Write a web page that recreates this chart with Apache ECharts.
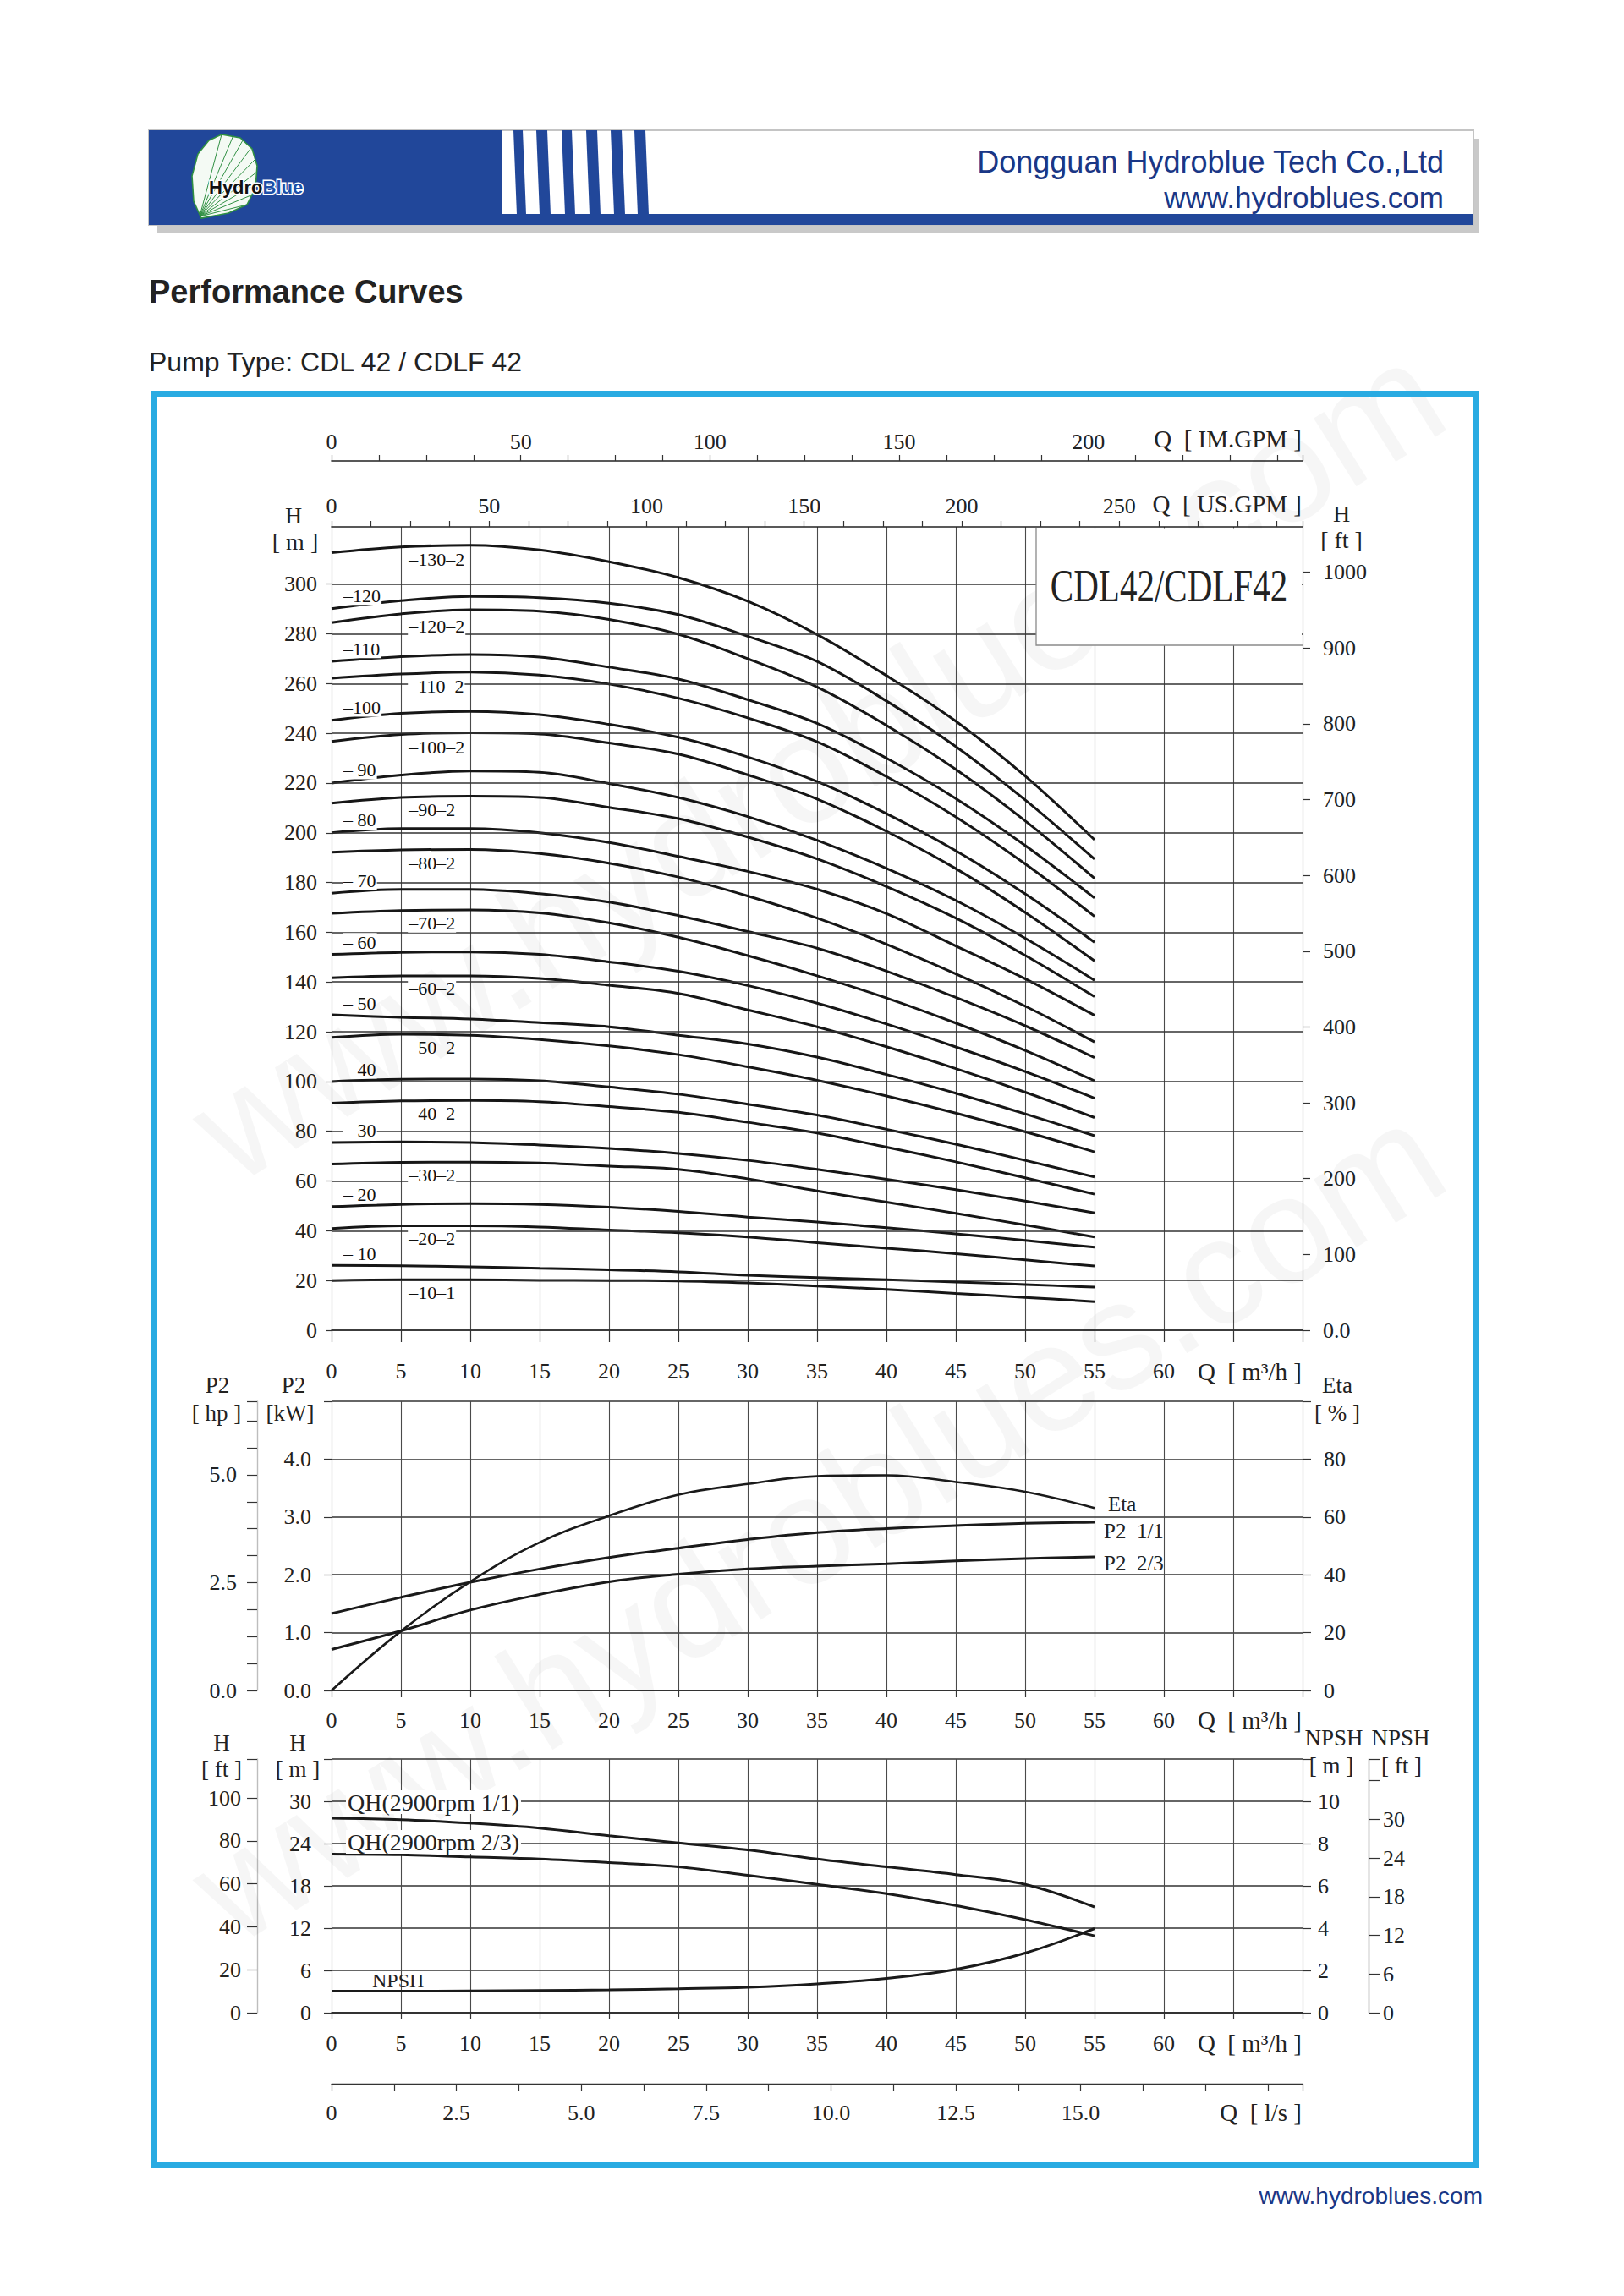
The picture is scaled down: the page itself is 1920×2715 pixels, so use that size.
<!DOCTYPE html>
<html><head><meta charset="utf-8">
<script src="https://cdn.jsdelivr.net/npm/echarts@6/dist/echarts.min.js"></script>
<style>html,body{margin:0;padding:0;background:#fff}#c{width:1920px;height:2715px}</style>
</head><body><div id="c"></div>
<script>
// ---------------- data ----------------
const Q = [0, 5, 10, 15, 20, 25, 30, 35, 40, 45, 50, 55];           // m3/h
// H [m] of each pump version
const h130_2 = [312.6, 314.9, 315.6, 313.7, 309.0, 302.6, 293.1, 279.7, 263.2, 244.9, 222.8, 197.2];
const h120   = [290.1, 293.3, 295.0, 294.5, 292.3, 287.7, 279.0, 268.9, 253.0, 234.7, 213.2, 189.4];
const h120_2 = [284.5, 288.0, 289.7, 289.1, 285.8, 279.8, 270.0, 258.6, 243.2, 225.5, 204.8, 181.7];
const h110   = [268.9, 270.8, 271.7, 270.6, 266.6, 261.8, 253.5, 244.0, 230.0, 213.8, 194.9, 173.8];
const h110_2 = [262.1, 263.8, 264.6, 263.4, 259.8, 254.1, 246.2, 236.6, 222.6, 206.4, 187.5, 166.4];
const h100   = [245.2, 248.0, 248.8, 247.5, 243.6, 238.4, 230.5, 220.6, 207.7, 192.8, 175.4, 156.0];
const h100_2 = [236.7, 239.5, 240.2, 239.7, 236.1, 231.6, 223.3, 213.6, 200.6, 185.6, 168.0, 148.5];
const h90    = [220.0, 223.2, 224.8, 224.3, 219.8, 214.2, 206.5, 197.0, 185.7, 172.8, 157.6, 140.7];
const h90_2  = [211.9, 214.2, 214.7, 214.2, 210.2, 205.7, 198.3, 189.5, 178.4, 165.7, 150.7, 134.1];
const h80    = [200.0, 201.7, 201.7, 200.0, 196.1, 190.5, 184.5, 177.3, 167.5, 154.5, 141.3, 126.6];
const h80_2  = [192.2, 193.1, 193.3, 191.7, 187.8, 182.2, 174.6, 165.7, 155.2, 143.3, 130.3, 115.9];
const h70    = [175.7, 177.2, 177.2, 175.5, 172.1, 166.7, 160.3, 153.6, 144.4, 133.8, 122.4, 109.6];
const h70_2  = [167.6, 168.7, 169.0, 167.8, 163.8, 158.0, 150.6, 142.5, 133.6, 123.5, 112.5, 100.3];
const h60    = [151.1, 151.9, 152.1, 151.1, 148.1, 144.3, 138.6, 131.5, 123.1, 113.9, 104.0, 93.3];
const h60_2  = [141.7, 142.5, 142.5, 141.4, 138.7, 135.4, 128.8, 122.0, 114.0, 105.2, 95.7, 85.5];
const h50    = [126.8, 125.8, 125.1, 123.7, 122.0, 118.6, 115.1, 109.8, 102.8, 95.3, 87.0, 78.2];
const h50_2  = [117.7, 119.0, 118.6, 116.9, 114.3, 110.8, 105.9, 100.5, 94.2, 87.3, 79.8, 71.7];
const h40    = [100.0, 100.9, 101.0, 100.3, 97.8, 94.9, 90.9, 86.5, 80.8, 74.8, 68.3, 61.6];
const h40_2  = [91.3, 92.2, 92.4, 91.9, 89.9, 87.6, 83.6, 79.3, 73.6, 67.7, 61.3, 54.7];
const h30    = [75.5, 75.7, 75.5, 74.5, 73.1, 71.1, 68.3, 64.7, 60.7, 56.5, 51.9, 47.2];
const h30_2  = [66.8, 67.5, 67.6, 67.2, 66.0, 64.7, 60.9, 56.0, 51.5, 47.0, 42.3, 37.5];
const h20    = [49.7, 50.6, 50.9, 50.6, 49.5, 47.8, 45.5, 43.5, 41.2, 38.8, 36.1, 33.4];
const h20_2  = [40.9, 42.0, 42.0, 41.5, 40.3, 39.2, 37.5, 35.2, 33.0, 30.8, 28.3, 25.8];
const h10    = [26.1, 25.9, 25.5, 24.9, 24.3, 23.5, 22.1, 21.2, 20.3, 19.4, 18.4, 17.3];
const h10_1  = [20.0, 20.3, 20.3, 20.1, 20.0, 19.8, 19.0, 17.8, 16.4, 14.8, 13.2, 11.5];

const curveNames = ['–130–2','–120','–120–2','–110','–110–2','–100','–100–2','– 90','–90–2','– 80','–80–2',
  '– 70','–70–2','– 60','–60–2','– 50','–50–2','– 40','–40–2','– 30','–30–2','– 20','–20–2','– 10','–10–1'];
const curveValues = [h130_2,h120,h120_2,h110,h110_2,h100,h100_2,h90,h90_2,h80,h80_2,
  h70,h70_2,h60,h60_2,h50,h50_2,h40,h40_2,h30,h30_2,h20,h20_2,h10,h10_1];

// P2 / efficiency chart
const etaPct     = [0, 20.5, 37.6, 51.2, 60.4, 67.7, 71.4, 74.1, 74.4, 72.1, 68.7, 63.1];
const p2Full     = [1.33, 1.61, 1.87, 2.10, 2.30, 2.46, 2.61, 2.73, 2.80, 2.85, 2.89, 2.91];
const p2TwoThird = [0.71, 1.03, 1.39, 1.66, 1.88, 2.01, 2.10, 2.15, 2.19, 2.24, 2.28, 2.31];

// single stage QH and NPSH chart
const qhFull     = [27.6, 27.4, 26.9, 26.2, 25.1, 24.1, 23.1, 21.8, 20.7, 19.6, 18.2, 15.0];
const qhTwoThird = [22.5, 22.4, 22.1, 21.8, 21.3, 20.7, 19.5, 18.2, 16.9, 15.2, 13.2, 10.9];
const npshM      = [1.02, 1.02, 1.03, 1.05, 1.08, 1.13, 1.20, 1.36, 1.62, 2.05, 2.82, 3.98];

// tick labels
const qLabels      = [0,5,10,15,20,25,30,35,40,45,50,55,60];
const hLabelsM     = [0,20,40,60,80,100,120,140,160,180,200,220,240,260,280,300];
const hLabelsFt    = [0,100,200,300,400,500,600,700,800,900,1000];
const usGpmLabels  = [0,50,100,150,200,250];
const imGpmLabels  = [0,50,100,150,200];
const kwLabels     = [0,1,2,3,4];
const hpLabels     = [0,2.5,5];
const etaLabels    = [0,20,40,60,80];
const h1Labels     = [0,6,12,18,24,30];
const h1FtLabels   = [0,20,40,60,80,100];
const npshLabels   = [0,2,4,6,8,10];
const npshFtLabels = [0,6,12,18,24,30];
const lsLabels     = [0,2.5,5,7.5,10,12.5,15];

// unit conversions
const US_GPM = 4.402868, IM_GPM = 3.666154, FT = 3.28084, HP = 1/0.7457, LS = 1/3.6;
const Q_MAX = 70, H_MAX = 323, H1_MAX = 36, KW_MAX = 5, NPSH_MAX = 12;

// ---------------- layout / style ----------------
const SERIF = "'Liberation Serif','Times New Roman',serif";
const SANS  = "'Liberation Sans',Arial,sans-serif";
const BLUE  = '#21479a';
const GL = 392, GW = 1148;

function pick(list, fmt) {
  return v => {
    const hit = list.find(t => Math.abs(t - v) < 1e-6);
    return hit === undefined ? '' : (fmt ? fmt(hit) : String(hit));
  };
}
function interp(arr, q) {
  let i = Math.min(Math.floor(q / 5), Q.length - 2);
  const t = (q - Q[i]) / (Q[i + 1] - Q[i]);
  return arr[i] + (arr[i + 1] - arr[i]) * t;
}
const lab = (o) => Object.assign({color:'#222', fontSize:26, fontFamily:SERIF}, o);
const tick = (len, o) => Object.assign({show:true, length:len, lineStyle:{color:'#333', width:1.2}}, o || {});
const line = (show, color, width) => ({show, onZero:false, lineStyle:{color, width}});
const vSplit = {show:true, lineStyle:{color:'#4a4a4a', width:1.1}};
const hSplit = {show:true, lineStyle:{color:'#333', width:1.5}};

const xAxis = [
  // 0 main Q
  {type:'value', gridIndex:0, position:'bottom', min:0, max:Q_MAX, interval:5,
   axisLine:line(true,'#222',1.6), axisTick:tick(14),
   axisLabel:lab({margin:35, formatter:pick(qLabels)}), splitLine:vSplit},
  // 1 US.GPM
  {type:'value', gridIndex:0, position:'top', min:0, max:Q_MAX*US_GPM, interval:12.5,
   axisLine:line(true,'#222',1.6), axisTick:tick(7),
   axisLabel:lab({margin:12, formatter:pick(usGpmLabels)}), splitLine:{show:false}},
  // 2 IM.GPM
  {type:'value', gridIndex:0, position:'top', offset:78, min:0, max:Q_MAX*IM_GPM, interval:12.5,
   axisLine:line(true,'#222',1.6), axisTick:tick(7),
   axisLabel:lab({margin:10, formatter:pick(imGpmLabels)}), splitLine:{show:false}},
  // 3 P2 chart Q
  {type:'value', gridIndex:1, position:'bottom', min:0, max:Q_MAX, interval:5,
   axisLine:line(true,'#222',1.6), axisTick:tick(8),
   axisLabel:lab({margin:22, formatter:pick(qLabels)}), splitLine:vSplit},
  // 4 NPSH chart Q
  {type:'value', gridIndex:2, position:'bottom', min:0, max:Q_MAX, interval:5,
   axisLine:line(true,'#222',1.6), axisTick:tick(8),
   axisLabel:lab({margin:23, formatter:pick(qLabels)}), splitLine:vSplit},
  // 5 l/s
  {type:'value', gridIndex:2, position:'bottom', offset:84, min:0, max:Q_MAX*LS, interval:1.25,
   axisLine:line(true,'#333',1.4), axisTick:tick(9),
   axisLabel:lab({margin:21, formatter:pick(lsLabels, v => v === 0 ? '0' : v.toFixed(1))}), splitLine:{show:false}}
];

const yAxis = [
  // 0 main H m
  {type:'value', gridIndex:0, position:'left', min:0, max:H_MAX, interval:20,
   axisLine:line(false,'#333',1), axisTick:tick(7, {customValues:hLabelsM}),
   axisLabel:lab({margin:17, formatter:pick(hLabelsM)}), splitLine:{show:false}},
  // 1 main H ft
  {type:'value', gridIndex:0, position:'right', min:0, max:H_MAX*FT, interval:100,
   axisLine:line(false,'#333',1), axisTick:tick(9, {customValues:hLabelsFt}),
   axisLabel:lab({margin:24, formatter:pick(hLabelsFt, v => v === 0 ? '0.0' : String(v))}), splitLine:{show:false}},
  // 2 P2 kW
  {type:'value', gridIndex:1, position:'left', min:0, max:KW_MAX, interval:1,
   axisLine:line(false,'#333',1), axisTick:tick(9),
   axisLabel:lab({margin:24, formatter:pick(kwLabels, v => v.toFixed(1))}), splitLine:hSplit},
  // 3 P2 hp
  {type:'value', gridIndex:1, position:'left', offset:88, min:0, max:KW_MAX*HP, interval:0.625,
   axisLine:line(true,'#bdbdbd',1.4), axisTick:tick(12),
   axisLabel:lab({margin:24, formatter:pick(hpLabels, v => v.toFixed(1))}), splitLine:{show:false}},
  // 4 Eta %
  {type:'value', gridIndex:1, position:'right', min:0, max:100, interval:20,
   axisLine:line(false,'#333',1), axisTick:tick(10),
   axisLabel:lab({margin:25, formatter:pick(etaLabels)}), splitLine:{show:false}},
  // 5 single stage H m
  {type:'value', gridIndex:2, position:'left', min:0, max:H1_MAX, interval:6,
   axisLine:line(false,'#333',1), axisTick:tick(9),
   axisLabel:lab({margin:24, formatter:pick(h1Labels)}), splitLine:hSplit},
  // 6 single stage H ft
  {type:'value', gridIndex:2, position:'left', offset:88, min:0, max:H1_MAX*FT, interval:20,
   axisLine:line(true,'#bdbdbd',1.4), axisTick:tick(12),
   axisLabel:lab({margin:19, formatter:pick(h1FtLabels)}), splitLine:{show:false}},
  // 7 NPSH m
  {type:'value', gridIndex:2, position:'right', min:0, max:NPSH_MAX, interval:2,
   axisLine:line(false,'#333',1), axisTick:tick(10),
   axisLabel:lab({margin:18, formatter:pick(npshLabels)}), splitLine:{show:false}},
  // 8 NPSH ft
  {type:'value', gridIndex:2, position:'right', offset:78, min:0, max:NPSH_MAX*FT, interval:6,
   axisLine:line(true,'#555',1.3), axisTick:tick(13),
   axisLabel:lab({margin:17, formatter:pick(npshFtLabels)}), splitLine:{show:false}}
];

const series = [];
// horizontal grid of the main chart
series.push({type:'line', xAxisIndex:0, yAxisIndex:0, data:[[0,0]], symbol:'none', silent:true,
  lineStyle:{width:0}, z:1,
  markLine:{silent:true, symbol:['none','none'], label:{show:false}, animation:false,
    lineStyle:{color:'#333', width:1.5, type:'solid'}, data:hLabelsM.map(v => ({yAxis:v}))}});

curveNames.forEach((name, k) => {
  const arr = curveValues[k];
  const inner = (name.match(/–/g) || []).length > 1;
  const lq = inner ? 5.5 : 0.8;
  series.push({
    name, type:'line', xAxisIndex:0, yAxisIndex:0, z:3,
    data:Q.map((q, i) => [q, arr[i]]), smooth:0.35, symbol:'none', silent:true,
    lineStyle:{color:'#161616', width:3},
    markPoint:{symbol:'circle', symbolSize:0, silent:true, itemStyle:{color:'transparent'},
      data:[{coord:[lq, interp(arr, lq)]}],
      label:{show:true, position:'right', distance:0, offset:[0, inner ? 15 : -14],
        formatter:name, color:'#111', fontSize:22, fontFamily:SERIF,
        backgroundColor:'#fff', padding:[0,1]}}
  });
});

const endLab = (text, off) => ({show:true, formatter:text, offset:off, color:'#222', fontSize:25, fontFamily:SERIF});
series.push({type:'line', name:'Eta', xAxisIndex:3, yAxisIndex:4, data:Q.map((q,i)=>[q, etaPct[i]]),
  smooth:0.4, symbol:'none', silent:true, lineStyle:{color:'#1a1a1a', width:2.6}, endLabel:endLab('Eta', [8,-5])});
series.push({type:'line', name:'P2 1/1', xAxisIndex:3, yAxisIndex:2, data:Q.map((q,i)=>[q, p2Full[i]]),
  smooth:0.4, symbol:'none', silent:true, lineStyle:{color:'#1a1a1a', width:3}, endLabel:endLab('P2  1/1', [3,11])});
series.push({type:'line', name:'P2 2/3', xAxisIndex:3, yAxisIndex:2, data:Q.map((q,i)=>[q, p2TwoThird[i]]),
  smooth:0.4, symbol:'none', silent:true, lineStyle:{color:'#1a1a1a', width:3}, endLabel:endLab('P2  2/3', [3,8])});

series.push({type:'line', name:'QH 1/1', xAxisIndex:4, yAxisIndex:5, data:Q.map((q,i)=>[q, qhFull[i]]),
  smooth:0.35, symbol:'none', silent:true, lineStyle:{color:'#1a1a1a', width:3}});
series.push({type:'line', name:'QH 2/3', xAxisIndex:4, yAxisIndex:5, data:Q.map((q,i)=>[q, qhTwoThird[i]]),
  smooth:0.35, symbol:'none', silent:true, lineStyle:{color:'#1a1a1a', width:3}});
series.push({type:'line', name:'NPSH', xAxisIndex:4, yAxisIndex:7, data:Q.map((q,i)=>[q, npshM[i]]),
  smooth:0.4, symbol:'none', silent:true, lineStyle:{color:'#1a1a1a', width:3}});

// ---------------- page graphics ----------------
const T = (text, x, y, o) => ({type:'text', x, y, z:(o && o.z) || 50, rotation:(o && o.rot) || 0,
  scaleX:(o && o.sx) || 1,
  style:Object.assign({text, fill:'#222', font:`27px ${SERIF}`, textAlign:'center', textVerticalAlign:'middle',
    align:'center', verticalAlign:'middle'}, (o && o.style) || {})});
const leftT = (style) => Object.assign({textAlign:'left', align:'left'}, style);
const rightT = (style) => Object.assign({textAlign:'right', align:'right'}, style);
const unitFont = `29px ${SERIF}`;

const g = [];
// watermark
g.push(T('www.hydroblues.com', 966, 900, {z:0, rot:32*Math.PI/180, style:{font:`180px ${SANS}`, fill:'rgba(0,0,0,0.035)'}}));
g.push(T('www.hydroblues.com', 966, 1800, {z:0, rot:32*Math.PI/180, style:{font:`180px ${SANS}`, fill:'rgba(0,0,0,0.035)'}}));

// header banner
g.push({type:'rect', z:1, shape:{x:186, y:164, width:1562, height:112}, style:{fill:'#c9c9c9'}});
g.push({type:'rect', z:2, shape:{x:176, y:154, width:1566, height:112}, style:{fill:'#fff', stroke:'#c4c4c4', lineWidth:2}});
g.push({type:'rect', z:3, shape:{x:176, y:154, width:418, height:112}, style:{fill:BLUE}});
g.push({type:'rect', z:3, shape:{x:176, y:253, width:1566, height:13}, style:{fill:BLUE}});
[[611,622],[638,651],[668,680],[697,710],[726,739],[754,767]].forEach(([a,b]) => {
  g.push({type:'polygon', z:3, shape:{points:[[a-4,154],[b-4,154],[b,254],[a,254]]}, style:{fill:BLUE}});
});
// logo
g.push({type:'polygon', z:4, shape:{points:[[262,159],[284,163],[298,176],[304,196],[302,222],[292,242],[270,252],[238,258],[229,238],[227,208],[234,182],[247,166]]},
  style:{fill:'#f4faf4', stroke:'#2f8f42', lineWidth:1.6}});
[[262,159],[276,160],[287,166],[296,176],[301,189],[304,203],[303,217],[299,230],[292,242]].forEach(p => {
  g.push({type:'line', z:4, shape:{x1:236, y1:256, x2:p[0], y2:p[1]}, style:{stroke:'#2f8f42', lineWidth:1}});
});
g.push({type:'text', z:5, x:247, y:221, style:{text:'{a|Hydro}{b|Blue}', textVerticalAlign:'middle', verticalAlign:'middle',
  rich:{a:{font:`bold 22px ${SANS}`, fill:'#111', color:'#111', textStroke:'#fff', stroke:'#fff', lineWidth:3, textStrokeWidth:3},
        b:{font:`bold 22px ${SANS}`, fill:'#1d4fa8', color:'#1d4fa8', textStroke:'#fff', stroke:'#fff', lineWidth:3, textStrokeWidth:3}}}});
g.push(T('Dongguan Hydroblue Tech Co.,Ltd', 1707, 191, {style:rightT({font:`36px ${SANS}`, fill:'#1a3786'})}));
g.push(T('www.hydroblues.com', 1707, 233, {style:rightT({font:`35px ${SANS}`, fill:'#1a3786'})}));

// page titles
g.push(T('Performance Curves', 176, 345, {style:leftT({font:`bold 38px ${SANS}`, fill:'#222'})}));
g.push(T('Pump Type: CDL 42 / CDLF 42', 176, 428, {style:leftT({font:`32px ${SANS}`, fill:'#222'})}));

// blue frame
g.push({type:'rect', z:60, shape:{x:182, y:466, width:1563, height:2094}, style:{fill:'none', stroke:'#29abe2', lineWidth:8}});

// main chart titles / units
g.push(T('Q  [ IM.GPM ]', 1539, 519, {style:rightT({font:unitFont})}));
g.push(T('Q  [ US.GPM ]', 1539, 596, {style:rightT({font:unitFont})}));
g.push(T('H', 347, 609, {style:{font:`28px ${SERIF}`}}));
g.push(T('[ m ]', 349, 640, {style:{font:`28px ${SERIF}`}}));
g.push(T('H', 1586, 607, {style:{font:`28px ${SERIF}`}}));
g.push(T('[ ft ]', 1586, 638, {style:{font:`28px ${SERIF}`}}));
g.push(T('Q  [ m³/h ]', 1539, 1622, {style:rightT({font:unitFont})}));
// model box
g.push({type:'rect', z:100, shape:{x:1225, y:624.5, width:314, height:138.5}, style:{fill:'#fff'}});
g.push({type:'polyline', z:101, shape:{points:[[1225,624],[1225,763],[1540,763]]}, style:{stroke:'#8a8a8a', lineWidth:1.3, fill:'none'}});
g.push(T('CDL42/CDLF42', 1382, 692, {z:102, sx:0.76, style:{font:`54px ${SERIF}`, fill:'#222'}}));

// P2 chart titles
g.push(T('P2', 257, 1638));
g.push(T('P2', 347, 1638));
g.push(T('[ hp ]', 256, 1671));
g.push(T('[kW]', 343, 1671));
g.push(T('Eta', 1581, 1638));
g.push(T('[ % ]', 1581, 1671));
g.push(T('Q  [ m³/h ]', 1539, 2034, {style:rightT({font:unitFont})}));

// NPSH chart titles
g.push(T('H', 262, 2061));
g.push(T('[ ft ]', 262, 2092));
g.push(T('H', 352, 2061));
g.push(T('[ m ]', 352, 2092));
g.push(T('NPSH', 1577, 2055));
g.push(T('NPSH', 1656, 2055));
g.push(T('[ m ]', 1574, 2088));
g.push(T('[ ft ]', 1657, 2088));
g.push(T('QH(2900rpm 1/1)', 409, 2131, {z:100, style:leftT({font:`28px ${SERIF}`, backgroundColor:'#fff', padding:[0,2]})}));
g.push(T('QH(2900rpm 2/3)', 409, 2178, {z:100, style:leftT({font:`28px ${SERIF}`, backgroundColor:'#fff', padding:[0,2]})}));
g.push(T('NPSH', 440, 2342, {z:100, style:leftT({font:`24px ${SERIF}`})}));
g.push(T('Q  [ m³/h ]', 1539, 2416, {style:rightT({font:unitFont})}));
g.push(T('Q  [ l/s ]', 1539, 2498, {style:rightT({font:unitFont})}));

// footer
g.push(T('www.hydroblues.com', 1753, 2596, {style:rightT({font:`28px ${SANS}`, fill:'#1a3786'})}));

const chart = echarts.init(document.getElementById('c'), null, {renderer:'svg', width:1920, height:2715});
chart.setOption({
  animation:false,
  backgroundColor:'#fff',
  textStyle:{fontFamily:SERIF},
  grid:[
    {left:GL, top:623, width:GW, height:950, outerBoundsMode:'none'},
    {left:GL, top:1657, width:GW, height:342, outerBoundsMode:'none'},
    {left:GL, top:2080, width:GW, height:300, outerBoundsMode:'none'}
  ],
  xAxis, yAxis, series,
  graphic:{elements:g}
});
</script>
</body></html>
